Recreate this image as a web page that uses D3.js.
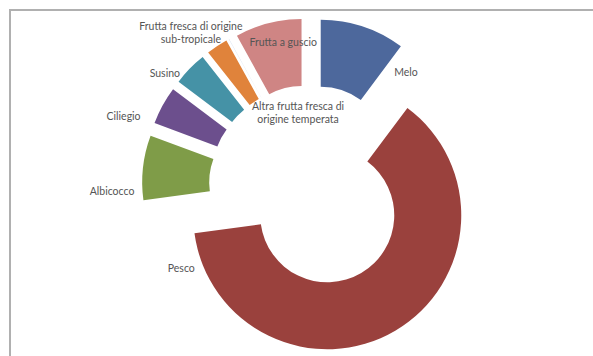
<!DOCTYPE html>
<html>
<head>
<meta charset="utf-8">
<script src="https://cdn.jsdelivr.net/npm/d3@7"></script>
<style>
  html, body { margin: 0; padding: 0; background: #fff; }
  svg { display: block; }
</style>
</head>
<body>
<svg id="chart" width="593" height="356"></svg>
<script>
// ---- data ----
const categories = [
  "Melo",
  "Pesco",
  "Albicocco",
  "Ciliegio",
  "Susino",
  "Altra frutta fresca di origine temperata",
  "Frutta fresca di origine sub-tropicale",
  "Frutta a guscio"
];
const values = [10.2, 62.6, 7.8, 4.6, 4.1, 2.6, 0.03, 8.0];
const colors = ["#4d689c", "#9a413d", "#7f9c48", "#6c4f8d", "#4592a6", "#e0833b", "#c9d7ea", "#cf8584"];

// label nudges (px) from the exploded outer mid-point of each slice
const labelOffsets = [[43, 46], [-214, -62], [-31, 24], [-39, 11], [-25, 5], [81, 67], [-38, -6], [15, 19]];

// ---- layout ----
const W = 593, H = 356;
const cx = 310, cy = 186;
const outerR = 134, innerR = 67, explode = 34;

const svg = d3.select("#chart");

// frame (only top and left edges visible in the crop)
svg.append("rect")
  .attr("x", 10).attr("y", 10)
  .attr("width", W + 20).attr("height", H + 20)
  .attr("fill", "none")
  .attr("stroke", "#b0b0b0")
  .attr("stroke-width", 2);

const data = categories.map((c, i) => ({ name: c, value: values[i], color: colors[i], off: labelOffsets[i] }));

const pie = d3.pie().sort(null).value(d => d.value);
const arcs = pie(data);
const arc = d3.arc().innerRadius(innerR).outerRadius(outerR);

const g = svg.append("g").attr("transform", `translate(${cx},${cy})`);

function dir(a) { return [Math.sin(a), -Math.cos(a)]; }

g.selectAll("path.slice")
  .data(arcs)
  .join("path")
  .attr("class", "slice")
  .attr("d", arc)
  .attr("fill", d => d.data.color)
  .attr("transform", d => {
    const m = (d.startAngle + d.endAngle) / 2;
    const [dx, dy] = dir(m);
    return `translate(${dx * explode},${dy * explode})`;
  });

// labels
function wrap(name) {
  const w = name.split(" ");
  if (w.length > 4) return [w.slice(0, 4).join(" "), w.slice(4).join(" ")];
  return [name];
}
const lineH = 13;
g.selectAll("text.lbl")
  .data(arcs)
  .join("text")
  .attr("class", "lbl")
  .attr("font-family", "Lato, 'Open Sans', sans-serif")
  .attr("font-size", 10.5)
  .attr("fill", "#555555")
  .attr("text-anchor", "middle")
  .each(function (d) {
    const m = (d.startAngle + d.endAngle) / 2;
    const [ux, uy] = dir(m);
    const px = ux * (outerR + explode) + d.data.off[0];
    const py = uy * (outerR + explode) + d.data.off[1];
    const lines = wrap(d.data.name);
    const t = d3.select(this);
    lines.forEach((ln, i) => {
      t.append("tspan")
        .attr("x", px)
        .attr("y", py + (i - (lines.length - 1) / 2) * lineH)
        .attr("dy", "0.35em")
        .text(ln);
    });
  });
</script>
</body>
</html>
